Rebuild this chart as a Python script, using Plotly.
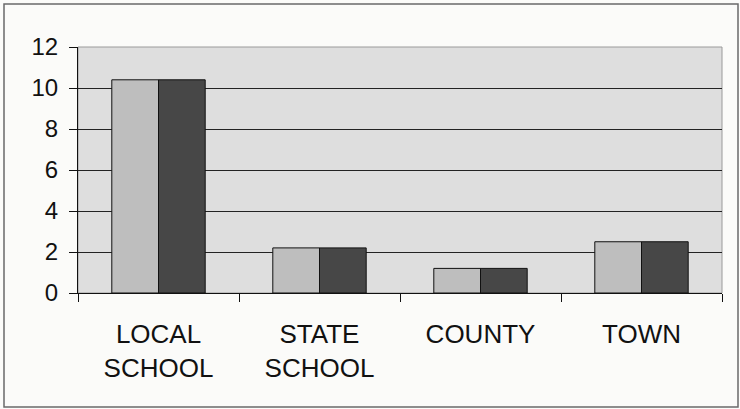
import plotly.graph_objects as go

categories = ["LOCAL<br>SCHOOL", "STATE<br>SCHOOL", "COUNTY", "TOWN"]
series_a = [10.4, 2.2, 1.2, 2.5]
series_b = [10.4, 2.2, 1.2, 2.5]
y_ticks = [0, 2, 4, 6, 8, 10, 12]

font_family = "Liberation Sans, Arial, sans-serif"

fig = go.Figure()
fig.add_trace(go.Bar(x=categories, y=series_a, marker=dict(color="#bebebe", line=dict(color="#111111", width=1)), showlegend=False))
fig.add_trace(go.Bar(x=categories, y=series_b, marker=dict(color="#474747", line=dict(color="#111111", width=1)), showlegend=False))

fig.update_layout(
    width=740, height=409,
    margin=dict(l=78, r=18, t=47, b=116),
    barmode="group", bargap=0.42, bargroupgap=0,
    paper_bgcolor="#fbfbf9", plot_bgcolor="#dedede",
    font=dict(family=font_family, size=24, color="#111111"),
    xaxis=dict(showline=True, linecolor="#111111", linewidth=1, ticks="outside", ticklen=8,
               tickcolor="#111111", tickson="boundaries", showgrid=False,
               ticklabelstandoff=18, tickfont=dict(size=26)),
    yaxis=dict(range=[0, 12], tickvals=y_ticks, showline=True, linecolor="#111111", linewidth=1,
               ticks="outside", ticklen=8, tickcolor="#111111", showgrid=True,
               gridcolor="#222222", gridwidth=1, zeroline=False, ticklabelstandoff=6,
               tickfont=dict(size=24)),
    shapes=[
        dict(type="rect", xref="paper", yref="paper", x0=0, x1=1, y0=0, y1=1,
             line=dict(color="#9a9a9a", width=1), layer="below"),
        dict(type="rect", xref="paper", yref="paper",
             x0=(4 - 78) / 644, x1=(738 - 78) / 644, y0=(293 - 407) / 246, y1=(293 - 4) / 246,
             line=dict(color="#6a6a6a", width=1.5), layer="below"),
    ],
)

fig.write_html("out.html", config={"displayModeBar": False},
               post_script="document.body.style.margin='0';")
